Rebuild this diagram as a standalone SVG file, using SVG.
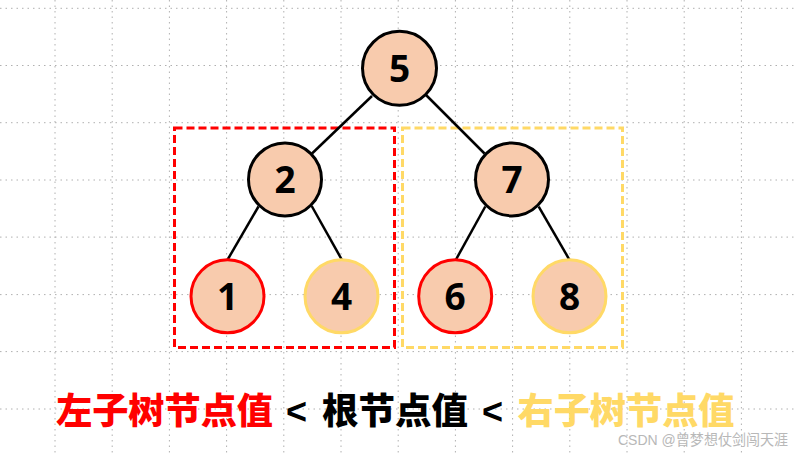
<svg xmlns="http://www.w3.org/2000/svg" width="796" height="454" viewBox="0 0 796 454">
<style>
.grid line{stroke:#b0b0b0;stroke-width:1;stroke-dasharray:1.5 4}
.node circle{fill:#F8CBAD;stroke-width:3}
.node text{font-family:"Noto Sans","Liberation Sans",sans-serif;font-weight:bold;font-size:37px;fill:#000;text-anchor:middle}
.edges line{stroke:#000;stroke-width:2.5}
.big{font-family:"Liberation Sans","Noto Sans CJK SC",sans-serif;font-weight:900;font-size:36px}
</style>
<rect width="796" height="454" fill="#fff"/>
<g class="grid">
<line x1="55" y1="0" x2="55" y2="454"/>
<line x1="112.2" y1="0" x2="112.2" y2="454"/>
<line x1="169.4" y1="0" x2="169.4" y2="454"/>
<line x1="226.6" y1="0" x2="226.6" y2="454"/>
<line x1="283.8" y1="0" x2="283.8" y2="454"/>
<line x1="341" y1="0" x2="341" y2="454"/>
<line x1="398.2" y1="0" x2="398.2" y2="454"/>
<line x1="455.4" y1="0" x2="455.4" y2="454"/>
<line x1="512.6" y1="0" x2="512.6" y2="454"/>
<line x1="569.8" y1="0" x2="569.8" y2="454"/>
<line x1="627" y1="0" x2="627" y2="454"/>
<line x1="684.2" y1="0" x2="684.2" y2="454"/>
<line x1="741.4" y1="0" x2="741.4" y2="454"/>
<line x1="0" y1="8.3" x2="796" y2="8.3"/>
<line x1="0" y1="65.5" x2="796" y2="65.5"/>
<line x1="0" y1="122.7" x2="796" y2="122.7"/>
<line x1="0" y1="180" x2="796" y2="180"/>
<line x1="0" y1="237.1" x2="796" y2="237.1"/>
<line x1="0" y1="294.6" x2="796" y2="294.6"/>
<line x1="0" y1="351.6" x2="796" y2="351.6"/>
<line x1="0" y1="409" x2="796" y2="409"/>
</g>
<g id="subtrees">
<rect x="174.5" y="128" width="220" height="219.5" fill="none" stroke="#FF0000" stroke-width="3" stroke-dasharray="8 4"/>
<rect x="402.5" y="128" width="220" height="219.5" fill="none" stroke="#FFD966" stroke-width="3" stroke-dasharray="8 4"/>
</g>
<g class="edges" id="connectors">
<line x1="372" y1="96" x2="312" y2="153.5"/>
<line x1="426" y1="95" x2="484.5" y2="153.5"/>
<line x1="258.5" y1="206.5" x2="227.7" y2="259.5"/>
<line x1="311.7" y1="206" x2="341.7" y2="259.5"/>
<line x1="485.3" y1="206.5" x2="456" y2="259.5"/>
<line x1="538.7" y1="206.5" x2="569.3" y2="259.5"/>
</g>
<g class="node" id="node5"><circle cx="399.5" cy="68.3" r="37" stroke="#000"/><text x="399.5" y="81.7">5</text></g>
<g class="node" id="node2"><circle cx="285" cy="179.4" r="36.5" stroke="#000"/><text x="285" y="192.8">2</text></g>
<g class="node" id="node7"><circle cx="512" cy="179.4" r="36.5" stroke="#000"/><text x="512" y="192.8">7</text></g>
<g class="node" id="node1"><circle cx="227.5" cy="296.3" r="36.5" stroke="#FF0000"/><text x="227.5" y="309.7">1</text></g>
<g class="node" id="node4"><circle cx="341.5" cy="296.3" r="36.5" stroke="#FFD966"/><text x="341.5" y="309.7">4</text></g>
<g class="node" id="node6"><circle cx="455.2" cy="296.3" r="36.5" stroke="#FF0000"/><text x="455.2" y="309.7">6</text></g>
<g class="node" id="node8"><circle cx="569.5" cy="296.3" r="36.5" stroke="#FFD966"/><text x="569.5" y="309.7">8</text></g>
<g id="caption">
<text class="big" x="56" y="423.5" fill="#FF0000" textLength="217" lengthAdjust="spacingAndGlyphs">左子树节点值</text>
<text class="big" x="286" y="423.5" fill="#000">&lt;</text>
<text class="big" x="322" y="423.5" fill="#000" textLength="146" lengthAdjust="spacingAndGlyphs">根节点值</text>
<text class="big" x="482" y="423.5" fill="#000">&lt;</text>
<text class="big" x="517.5" y="423.5" fill="#FFD966" textLength="217" lengthAdjust="spacingAndGlyphs">右子树节点值</text>
</g>
<text x="618" y="445" font-family="Liberation Sans,Noto Sans CJK SC,sans-serif" font-size="14.5" fill="#b8b8b8" textLength="170" lengthAdjust="spacingAndGlyphs">CSDN @曾梦想仗剑闯天涯</text>
</svg>
